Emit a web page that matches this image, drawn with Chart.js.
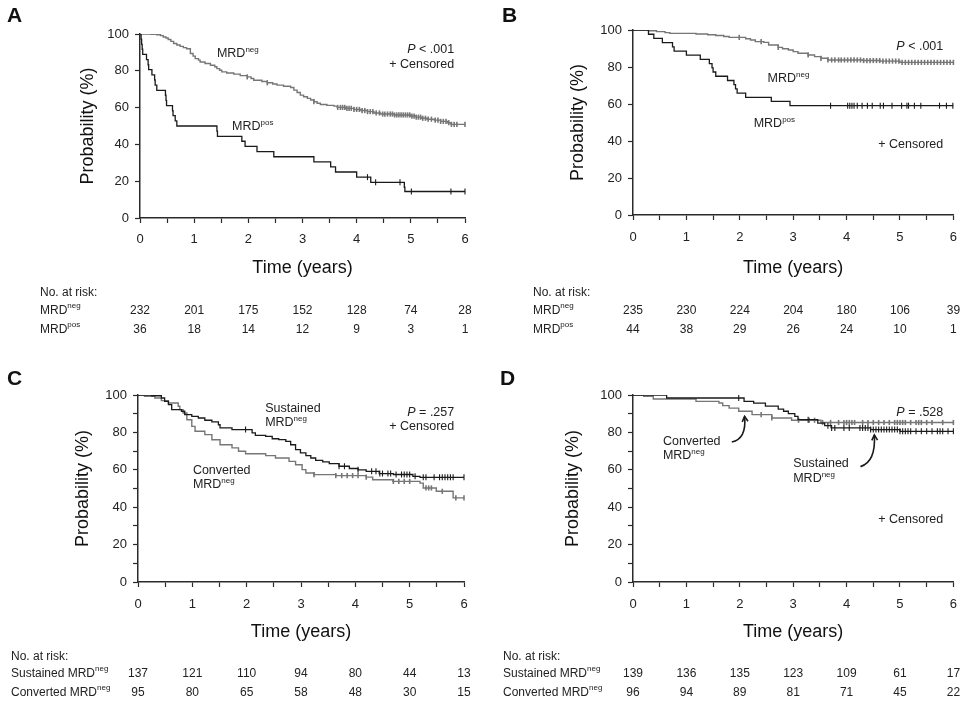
<!DOCTYPE html>
<html>
<head>
<meta charset="utf-8">
<script src="https://cdn.jsdelivr.net/npm/chart.js"></script>
<style>
  body { margin: 0; background: #fff; }
  #wrap { position: relative; width: 967px; height: 702px; }
  canvas { position: absolute; }
</style>
</head>
<body>
<div id="wrap">
  <canvas id="panelA" width="483" height="355" style="left:0;top:0"></canvas>
  <canvas id="panelB" width="484" height="355" style="left:483px;top:0"></canvas>
  <canvas id="panelC" width="483" height="347" style="left:0;top:355px"></canvas>
  <canvas id="panelD" width="484" height="347" style="left:483px;top:355px"></canvas>
</div>
<script>
// x ticks where the at-risk numbers sit
const yearTicks = [0, 1, 2, 3, 4, 5, 6];

// Panel A: [time (years), survival %]
const aNegSteps = [[0,100],[0.2,99.8],[0.31,99.6],[0.38,99.1],[0.43,98.4],[0.48,97.8],[0.52,97],[0.57,96],[0.62,94.8],[0.68,94],[0.74,93.3],[0.8,92.6],[0.86,92],[0.93,89.4],[0.98,88],[1.02,86.6],[1.08,85.8],[1.11,84.8],[1.2,84],[1.3,83],[1.38,82.2],[1.42,81.2],[1.47,80.3],[1.51,79.4],[1.6,78.8],[1.73,78.2],[1.85,77.4],[1.98,76.7],[2.05,75.8],[2.1,74.9],[2.25,74.2],[2.35,73.5],[2.45,72.8],[2.53,72.2],[2.65,71.6],[2.78,70.9],[2.84,69.5],[2.9,68.2],[2.96,66.8],[3.02,65.9],[3.09,65],[3.15,64.1],[3.21,63.2],[3.27,62.4],[3.33,61.7],[3.45,61.2],[3.58,60.8],[3.64,60.1],[3.8,59.6],[3.95,59],[4.08,58.4],[4.2,57.8],[4.32,57.1],[4.44,56.5],[4.69,56],[5.0,55.4],[5.1,54.8],[5.19,54.2],[5.3,53.7],[5.43,53.2],[5.55,52.5],[5.68,51.8],[5.74,50.9],[6.0,50.9]];
const aNegCensored = [1.98,2.35,3.21,3.65,3.7,3.74,3.78,3.82,3.86,3.9,3.95,4.0,4.05,4.1,4.15,4.2,4.25,4.3,4.36,4.42,4.48,4.52,4.57,4.62,4.66,4.7,4.74,4.78,4.82,4.86,4.9,4.94,4.98,5.02,5.06,5.1,5.14,5.18,5.22,5.27,5.32,5.38,5.45,5.5,5.55,5.6,5.65,5.7,5.75,5.8,5.85,6.0];
const aPosSteps = [[0,100],[0.02,97.2],[0.03,94.4],[0.04,91.7],[0.05,88.9],[0.12,86.1],[0.15,83.3],[0.16,80.6],[0.22,77.8],[0.27,75],[0.28,72.2],[0.31,69.4],[0.47,66.7],[0.48,63.9],[0.49,61.1],[0.6,58.3],[0.61,55.6],[0.65,52.8],[0.68,50],[1.42,47.2],[1.43,44.4],[1.88,41.7],[1.94,38.9],[2.16,36.1],[2.47,33.3],[3.21,30.5],[3.52,27.8],[3.61,25],[4.0,22.2],[4.26,19.4],[4.88,16.7],[4.89,14.4],[6.0,14.4]];
const aPosCensored = [4.2,4.35,4.8,5.01,5.74,6.0];
const aRiskNeg = [232,201,175,152,128,74,28];
const aRiskPos = [36,18,14,12,9,3,1];

// Panel B
const bNegSteps = [[0,100],[0.29,99.6],[0.44,99.1],[0.6,98.6],[0.69,98.2],[1.18,97.8],[1.4,97.4],[1.55,97],[1.7,96.5],[1.8,96],[2.11,95.3],[2.2,94.6],[2.29,93.7],[2.45,93.3],[2.54,91.9],[2.72,90.6],[2.8,89.9],[2.91,89.2],[3.0,88.3],[3.09,87.4],[3.28,86.5],[3.4,85.6],[3.52,84.7],[3.65,83.8],[4.3,83.5],[4.63,83.2],[5.0,82.5],[6.0,82.5]];
const bNegCensored = [1.99,2.4,2.72,3.28,3.52,3.65,3.72,3.78,3.85,3.9,3.96,4.02,4.08,4.14,4.2,4.26,4.32,4.38,4.44,4.5,4.56,4.62,4.68,4.74,4.8,4.86,4.92,4.98,5.04,5.1,5.16,5.22,5.28,5.34,5.4,5.46,5.52,5.58,5.64,5.7,5.76,5.82,5.88,5.94,6.0];
const bPosSteps = [[0,100],[0.29,97.7],[0.39,95.5],[0.55,93.2],[0.74,90.9],[0.77,88.6],[1.0,86.4],[1.26,84.1],[1.43,81.8],[1.48,79.5],[1.5,77.3],[1.55,75],[1.77,72.7],[1.89,70.5],[1.92,68.2],[1.95,65.9],[2.11,63.6],[2.59,61.4],[2.94,59.1],[6.0,59.1]];
const bPosCensored = [3.7,4.02,4.06,4.1,4.14,4.2,4.29,4.39,4.48,4.63,4.69,4.85,5.03,5.13,5.16,5.27,5.39,5.74,5.87,5.99];
const bRiskNeg = [235,230,224,204,180,106,39];
const bRiskPos = [44,38,29,26,24,10,1];

// Panel C
const cSusSteps = [[0,100],[0.25,99.6],[0.43,98.4],[0.49,96.6],[0.56,94.8],[0.62,92.2],[0.8,91.3],[0.86,89.5],[0.99,88.6],[1.11,87.7],[1.23,86.5],[1.36,85.6],[1.48,84.1],[1.51,82.4],[1.73,81.5],[2.1,79.7],[2.16,78.4],[2.35,77.9],[2.47,76.6],[2.59,76.1],[2.72,75.2],[2.81,73.4],[2.9,70.8],[2.99,69],[3.09,67.6],[3.18,66.3],[3.27,65],[3.4,64.2],[3.52,63.3],[3.7,61.9],[3.89,60.7],[4.05,60],[4.2,59.2],[4.44,58],[4.7,57.5],[5.06,56.5],[5.19,56],[6.0,56]];
const cSusCensored = [1.98,3.7,3.8,4.05,4.3,4.38,4.45,4.5,4.6,4.65,4.75,4.85,4.9,4.95,5.0,5.1,5.25,5.3,5.45,5.55,5.6,5.65,5.7,5.75,5.8,6.0];
const cConvSteps = [[0,100],[0.12,99.3],[0.31,98.4],[0.43,97],[0.56,95.7],[0.74,94],[0.77,92.2],[0.83,90.4],[0.9,86.8],[0.99,83.2],[1.05,80.6],[1.23,78.8],[1.36,76.1],[1.51,73.4],[1.73,71.7],[1.85,69.9],[1.98,68.6],[2.35,67.6],[2.53,66.3],[2.78,64.5],[2.9,62.7],[3.02,60.1],[3.09,58.3],[3.24,57.4],[3.64,56.9],[4.2,56.1],[4.32,54.7],[4.69,53.8],[5.19,52.9],[5.25,50.3],[5.49,48.5],[5.8,45],[6.0,45]];
const cConvCensored = [3.24,3.64,3.75,3.85,3.95,4.05,4.2,4.7,4.8,4.9,5.0,5.3,5.35,5.4,5.6,5.85,6.0];
const cRiskSus = [137,121,110,94,80,44,13];
const cRiskConv = [95,80,65,58,48,30,15];

// Panel D
const dSusSteps = [[0,100],[0.63,98.4],[2.08,96.6],[2.26,95.7],[2.48,94],[2.72,92.5],[2.82,91.3],[2.91,90],[3.03,88.6],[3.09,86.8],[3.46,85],[3.59,83.6],[3.71,82.4],[4.45,81.5],[5.0,80.6],[6.0,80.6]];
const dSusCensored = [1.98,3.28,3.65,3.72,3.78,3.95,4.05,4.25,4.3,4.35,4.4,4.45,4.5,4.55,4.6,4.65,4.7,4.75,4.8,4.85,4.9,4.95,5.0,5.05,5.1,5.15,5.2,5.3,5.4,5.5,5.6,5.7,5.75,5.8,5.9,6.0];
const dConvSteps = [[0,100],[0.2,99.3],[0.38,97.9],[1.18,96.6],[1.61,95.7],[1.68,94.3],[1.8,93],[1.98,91.3],[2.23,89.5],[2.6,87.7],[2.97,86.5],[3.52,85.3],[6.0,85.3]];
const dConvCensored = [2.4,2.6,3.1,3.3,3.4,3.55,3.7,3.85,3.95,4.0,4.05,4.1,4.15,4.3,4.4,4.5,4.6,4.7,4.8,4.9,4.95,5.0,5.05,5.1,5.2,5.3,5.35,5.4,5.5,5.6,5.8,6.0];
const dRiskSus = [139,136,135,123,109,61,17];
const dRiskConv = [96,94,89,81,71,45,22];

const FAMILY = '"Liberation Sans", Arial, Helvetica, sans-serif';
const BLACK = '#1a1a1a';
const GRAY = '#767676';
const AXIS = '#2a2a2a';
const TEXT = '#222';

Chart.defaults.font.family = FAMILY;

// survival level of a step curve at time t (for placing censor ticks)
function survAt(steps, t) {
  let s = steps[0][1];
  for (const [tt, ss] of steps) {
    if (tt <= t) s = ss; else break;
  }
  return s;
}

// text with optional italic prefix and superscript
function drawNote(ctx, px, py, n, size) {
  const base = size + 'px ' + FAMILY;
  const parts = [];
  if (n.italic) parts.push({ s: n.italic, font: 'italic ' + base, dy: 0 });
  parts.push({ s: n.text, font: base, dy: 0 });
  if (n.sup) parts.push({ s: n.sup, font: Math.round(size * 0.66) + 'px ' + FAMILY, dy: -5 });
  let w = 0;
  parts.forEach(pt => { ctx.font = pt.font; pt.w = ctx.measureText(pt.s).width; w += pt.w; });
  let cx = n.align === 'right' ? px - w : px;
  ctx.textAlign = 'left';
  parts.forEach(pt => {
    ctx.font = pt.font;
    ctx.fillText(pt.s, cx, py + pt.dy);
    cx += pt.w;
  });
}

function drawArrow(ctx, a, x, y) {
  const p0 = [x.getPixelForValue(a.from[0]), y.getPixelForValue(a.from[1])];
  const c = [x.getPixelForValue(a.ctrl[0]), y.getPixelForValue(a.ctrl[1])];
  const p1 = [x.getPixelForValue(a.to[0]), y.getPixelForValue(a.to[1])];
  ctx.strokeStyle = BLACK;
  ctx.lineWidth = 1.6;
  ctx.beginPath();
  ctx.moveTo(p0[0], p0[1]);
  ctx.quadraticCurveTo(c[0], c[1], p1[0], p1[1]);
  ctx.stroke();
  const ang = Math.atan2(p1[1] - c[1], p1[0] - c[0]);
  ctx.beginPath();
  ctx.moveTo(p1[0] - 6 * Math.cos(ang - 0.5), p1[1] - 6 * Math.sin(ang - 0.5));
  ctx.lineTo(p1[0], p1[1]);
  ctx.lineTo(p1[0] - 6 * Math.cos(ang + 0.5), p1[1] - 6 * Math.sin(ang + 0.5));
  ctx.stroke();
}

function extras(p) {
  return {
    id: 'extras' + p.letter,
    afterDraw(chart) {
      const { ctx, scales: { x, y } } = chart;
      ctx.save();
      ctx.fillStyle = '#111';
      ctx.textBaseline = 'alphabetic';
      ctx.textAlign = 'left';
      ctx.font = 'bold 21px ' + FAMILY;
      ctx.fillText(p.letter, p.letterPos[0], p.letterPos[1]);

      ctx.fillStyle = TEXT;
      p.notes.forEach(n => drawNote(ctx, x.getPixelForValue(n.x), y.getPixelForValue(n.y), n, 12.5));
      (p.arrows || []).forEach(a => drawArrow(ctx, a, x, y));

      // number at risk table
      ctx.fillStyle = TEXT;
      ctx.textBaseline = 'middle';
      ctx.font = '12px ' + FAMILY;
      ctx.fillText('No. at risk:', p.tableX, p.tableY[0]);
      p.rows.forEach((r, i) => {
        const ry = p.tableY[i + 1];
        drawNote(ctx, p.tableX, ry, { text: r.label, sup: r.sup }, 12);
        ctx.font = '12px ' + FAMILY;
        ctx.textAlign = 'center';
        r.counts.forEach((c, k) => ctx.fillText(String(c), x.getPixelForValue(yearTicks[k]), ry));
        ctx.textAlign = 'left';
      });
      ctx.restore();
    }
  };
}

function makePanel(p) {
  const datasets = [];
  p.curves.forEach(c => {
    const gray = c.color === GRAY;
    datasets.push({
      data: c.steps.map(([t, s]) => ({ x: t, y: s })),
      borderColor: c.color,
      borderWidth: gray ? 1.4 : 1.3,
      pointRadius: 0,
      stepped: true,
      fill: false
    });
    datasets.push({
      data: c.censored.map(t => ({ x: t, y: survAt(c.steps, t) })),
      showLine: false,
      pointStyle: 'line',
      pointRotation: 90,
      pointRadius: gray ? 2.6 : 3,
      pointBorderWidth: gray ? 1.6 : 1.1,
      pointBorderColor: c.color,
      borderColor: c.color,
      clip: false
    });
  });

  new Chart(document.getElementById(p.id), {
    type: 'line',
    data: { datasets },
    options: {
      responsive: false,
      animation: false,
      events: [],
      layout: { padding: p.pad },
      plugins: { legend: { display: false }, tooltip: { enabled: false } },
      scales: {
        x: {
          type: 'linear', min: 0, max: 6,
          afterFit: s => { s.height = p.xHeight; },
          border: { display: true, color: AXIS, width: 1.5 },
          grid: { drawOnChartArea: false, drawTicks: true, tickLength: 5, tickColor: AXIS, tickWidth: 1.2 },
          ticks: {
            stepSize: 0.5, autoSkip: false, maxRotation: 0, padding: p.xPad,
            color: TEXT, font: { size: 13 },
            callback: v => Number.isInteger(v) ? String(v) : ''
          },
          title: { display: true, text: 'Time (years)', color: '#111', font: { size: 18 }, padding: { top: 4, bottom: 4 } }
        },
        y: {
          type: 'linear', min: 0, max: 100,
          afterFit: s => { s.width = p.yWidth; },
          border: { display: true, color: AXIS, width: 1.5 },
          grid: { drawOnChartArea: false, drawTicks: true, tickLength: 5, tickColor: AXIS, tickWidth: 1.2 },
          ticks: {
            stepSize: 10, padding: 6, color: TEXT, font: { size: 13 },
            callback: v => v % 20 === 0 ? String(v) : ''
          },
          title: { display: true, text: 'Probability (%)', color: '#111', font: { size: 18 }, padding: { top: 4, bottom: 4 } }
        }
      }
    },
    plugins: [extras(p)]
  });
}

makePanel({
  id: 'panelA', letter: 'A', letterPos: [7, 22],
  pad: { left: 73, right: 18, top: 34, bottom: 72 }, yWidth: 67, xHeight: 65, xPad: 9,
  curves: [
    { steps: aPosSteps, censored: aPosCensored, color: BLACK },
    { steps: aNegSteps, censored: aNegCensored, color: GRAY }
  ],
  notes: [
    { x: 1.42, y: 87.5, text: 'MRD', sup: 'neg' },
    { x: 1.7, y: 47.8, text: 'MRD', sup: 'pos' },
    { x: 5.8, y: 89.6, italic: 'P', text: ' < .001', align: 'right' },
    { x: 5.8, y: 81.4, text: '+ Censored', align: 'right' }
  ],
  tableX: 40, tableY: [293, 311, 330],
  rows: [
    { label: 'MRD', sup: 'neg', counts: aRiskNeg },
    { label: 'MRD', sup: 'pos', counts: aRiskPos }
  ]
});

makePanel({
  id: 'panelB', letter: 'B', letterPos: [19, 22],
  pad: { left: 80, right: 10, top: 30, bottom: 72 }, yWidth: 70, xHeight: 68, xPad: 10,
  curves: [
    { steps: bPosSteps, censored: bPosCensored, color: BLACK },
    { steps: bNegSteps, censored: bNegCensored, color: GRAY }
  ],
  notes: [
    { x: 5.81, y: 89.2, italic: 'P', text: ' < .001', align: 'right' },
    { x: 2.52, y: 71.9, text: 'MRD', sup: 'neg' },
    { x: 2.26, y: 47.6, text: 'MRD', sup: 'pos' },
    { x: 5.81, y: 36.2, text: '+ Censored', align: 'right' }
  ],
  tableX: 50, tableY: [293, 311, 330],
  rows: [
    { label: 'MRD', sup: 'neg', counts: bRiskNeg },
    { label: 'MRD', sup: 'pos', counts: bRiskPos }
  ]
});

makePanel({
  id: 'panelC', letter: 'C', letterPos: [7, 30],
  pad: { left: 68, right: 19, top: 40, bottom: 55 }, yWidth: 70, xHeight: 65, xPad: 10,
  curves: [
    { steps: cSusSteps, censored: cSusCensored, color: BLACK },
    { steps: cConvSteps, censored: cConvCensored, color: GRAY }
  ],
  notes: [
    { x: 2.34, y: 90.9, text: 'Sustained' },
    { x: 2.34, y: 83.4, text: 'MRD', sup: 'neg' },
    { x: 5.82, y: 88.8, italic: 'P', text: ' = .257', align: 'right' },
    { x: 5.82, y: 81.3, text: '+ Censored', align: 'right' },
    { x: 1.01, y: 57.8, text: 'Converted' },
    { x: 1.01, y: 50.3, text: 'MRD', sup: 'neg' }
  ],
  tableX: 11, tableY: [302, 319, 338],
  rows: [
    { label: 'Sustained MRD', sup: 'neg', counts: cRiskSus },
    { label: 'Converted MRD', sup: 'neg', counts: cRiskConv }
  ]
});

makePanel({
  id: 'panelD', letter: 'D', letterPos: [17, 30],
  pad: { left: 75, right: 10, top: 40, bottom: 55 }, yWidth: 75, xHeight: 65, xPad: 10,
  curves: [
    { steps: dSusSteps, censored: dSusCensored, color: BLACK },
    { steps: dConvSteps, censored: dConvCensored, color: GRAY }
  ],
  notes: [
    { x: 5.81, y: 88.8, italic: 'P', text: ' = .528', align: 'right' },
    { x: 0.56, y: 73.3, text: 'Converted' },
    { x: 0.56, y: 65.8, text: 'MRD', sup: 'neg' },
    { x: 3.0, y: 61.5, text: 'Sustained' },
    { x: 3.0, y: 53.5, text: 'MRD', sup: 'neg' },
    { x: 5.81, y: 31.6, text: '+ Censored', align: 'right' }
  ],
  arrows: [
    { from: [1.85, 74.9], ctrl: [2.13, 76.5], to: [2.09, 88.6] },
    { from: [4.26, 61.7], ctrl: [4.55, 64.3], to: [4.52, 78.6] }
  ],
  tableX: 20, tableY: [302, 319, 338],
  rows: [
    { label: 'Sustained MRD', sup: 'neg', counts: dRiskSus },
    { label: 'Converted MRD', sup: 'neg', counts: dRiskConv }
  ]
});
</script>
</body>
</html>
